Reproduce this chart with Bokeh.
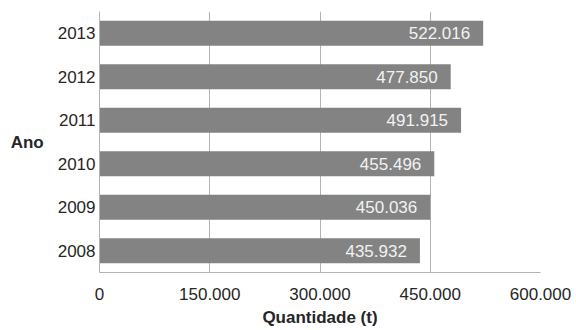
from bokeh.plotting import figure
from bokeh.models import ColumnDataSource, FactorRange, FixedTicker
from bokeh.core.properties import value
from bokeh.embed import file_html
from bokeh.resources import INLINE

# Production by year (tonnes)
anos = ["2008", "2009", "2010", "2011", "2012", "2013"]
quantidade = [435932, 450036, 455496, 491915, 477850, 522016]
x_ticks = [0, 150000, 300000, 450000, 600000]
x_tick_labels = ["0", "150.000", "300.000", "450.000", "600.000"]


def fmt_pt(v):
    return f"{v:,}".replace(",", ".")


FONT = "Liberation Sans"
TEXT = "#262626"
GRID = "#b3b3b3"

source = ColumnDataSource(dict(
    ano=anos,
    qtd=quantidade,
    rotulo=[fmt_pt(v) for v in quantidade],
))

p = figure(
    width=576, height=330,
    y_range=FactorRange(factors=anos, range_padding=0),
    x_range=(0, 600000),
    output_backend="svg", toolbar_location=None,
    min_border_left=99, min_border_right=36,
    min_border_top=11, min_border_bottom=58,
)
p.outline_line_color = None
p.background_fill_color = "white"
p.border_fill_color = "white"

p.hbar(y="ano", right="qtd", left=0, height=0.575, source=source,
       fill_color="#838383", line_color=None)

p.text(x="qtd", y="ano", text="rotulo", source=source,
       text_align="right", text_baseline="middle", x_offset=-13,
       text_color="#f2f2f2", text_font=value(FONT), text_font_size="17px")

# x axis
xa = p.xaxis[0]
xa.ticker = FixedTicker(ticks=x_ticks)
xa.major_label_overrides = {t: l for t, l in zip(x_ticks, x_tick_labels)}
xa.major_tick_line_color = None
xa.minor_tick_line_color = None
xa.major_tick_out = 0
xa.major_tick_in = 0
xa.axis_line_color = GRID
xa.major_label_standoff = 15
xa.major_label_text_font = FONT
xa.major_label_text_font_size = "17px"
xa.major_label_text_color = TEXT
xa.axis_label = "Quantidade (t)"
xa.axis_label_text_font = FONT
xa.axis_label_text_font_size = "17px"
xa.axis_label_text_font_style = "bold"
xa.axis_label_text_color = TEXT
xa.axis_label_standoff = 5

# y axis, with a horizontal "Ano" caption
ya = p.yaxis[0]
ya.major_tick_line_color = None
ya.minor_tick_line_color = None
ya.major_tick_out = 0
ya.major_tick_in = 0
ya.axis_line_color = GRID
ya.major_label_standoff = 4
ya.major_label_text_font = FONT
ya.major_label_text_font_size = "17px"
ya.major_label_text_color = TEXT
ya.axis_label = "Ano"
ya.axis_label_orientation = "horizontal"
ya.axis_label_standoff = 11
ya.axis_label_text_font = FONT
ya.axis_label_text_font_size = "17px"
ya.axis_label_text_font_style = "bold"
ya.axis_label_text_color = TEXT

p.xgrid.ticker = FixedTicker(ticks=x_ticks[1:])
p.xgrid.grid_line_color = GRID
p.ygrid.grid_line_color = None

open("out.html", "w").write(file_html(p, INLINE))
